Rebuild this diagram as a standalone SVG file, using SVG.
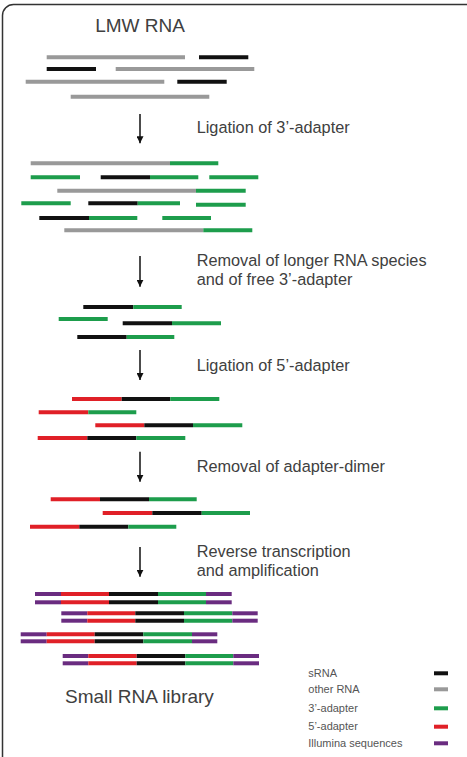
<svg xmlns="http://www.w3.org/2000/svg" width="467" height="757" viewBox="0 0 467 757">
<style>
text{font-family:"Liberation Sans",Arial,sans-serif;fill:#404040}
.t{font-size:16.3px}
.h{font-size:19px}
.l{font-size:11px;fill:#555}
line.s{stroke-width:4;stroke-linecap:butt}
.k{stroke:#111}
.g{stroke:#999}
.gr{stroke:#1d9d4c}
.r{stroke:#e02027}
.p{stroke:#6a2c80}
.ar{stroke:#111;stroke-width:1.5}
</style>
<defs>
<marker id="ah" viewBox="0 0 10 10" refX="10" refY="5" markerWidth="7" markerHeight="7" markerUnits="userSpaceOnUse" orient="auto">
<path d="M0,0 L10,5 L0,10 Z" fill="#111"/>
</marker>
</defs>
<rect x="2.5" y="4.5" width="480" height="780" rx="11" fill="#fff" stroke="#333" stroke-width="1.5"/>
<text class="h" x="140" y="32" text-anchor="middle">LMW RNA</text>

<g id="lmw">
<line class="s g" x1="46.7" y1="57.3" x2="185" y2="57.3"/>
<line class="s k" x1="199" y1="57.3" x2="248.3" y2="57.3"/>
<line class="s k" x1="46.7" y1="69" x2="96" y2="69"/>
<line class="s g" x1="115.7" y1="69" x2="254.3" y2="69"/>
<line class="s g" x1="25.7" y1="81.7" x2="164.3" y2="81.7"/>
<line class="s k" x1="177.3" y1="81.7" x2="226.7" y2="81.7"/>
<line class="s g" x1="70.7" y1="96.7" x2="209.3" y2="96.7"/>
</g>

<g id="connectors">
<line class="ar" x1="140" y1="114" x2="140" y2="143.3" marker-end="url(#ah)"/>
<line class="ar" x1="140" y1="256" x2="140" y2="286.7" marker-end="url(#ah)"/>
<line class="ar" x1="140" y1="350" x2="140" y2="380" marker-end="url(#ah)"/>
<line class="ar" x1="140" y1="451.7" x2="140" y2="481.7" marker-end="url(#ah)"/>
<line class="ar" x1="140" y1="547" x2="140" y2="576.7" marker-end="url(#ah)"/>
</g>

<g id="labels">
<text class="t" x="196.7" y="133.3">Ligation of 3’-adapter</text>
<text class="t" x="196.7" y="266">Removal of longer RNA species</text>
<text class="t" x="196.7" y="285">and of free 3’-adapter</text>
<text class="t" x="196.7" y="371">Ligation of 5’-adapter</text>
<text class="t" x="196.7" y="471.7">Removal of adapter-dimer</text>
<text class="t" x="196.7" y="557">Reverse transcription</text>
<text class="t" x="196.7" y="576">and amplification</text>
</g>

<g id="ligated3">
<line class="s g" x1="30.7" y1="163.3" x2="170" y2="163.3"/>
<line class="s gr" x1="170" y1="163.3" x2="218.3" y2="163.3"/>
<line class="s gr" x1="30.7" y1="177.3" x2="80" y2="177.3"/>
<line class="s k" x1="100.7" y1="177.3" x2="150" y2="177.3"/>
<line class="s gr" x1="150" y1="177.3" x2="198.3" y2="177.3"/>
<line class="s gr" x1="209.3" y1="177.3" x2="258.3" y2="177.3"/>
<line class="s g" x1="57.3" y1="190.7" x2="196" y2="190.7"/>
<line class="s gr" x1="196" y1="190.7" x2="245.7" y2="190.7"/>
<line class="s gr" x1="21.3" y1="203.3" x2="70.7" y2="203.3"/>
<line class="s k" x1="88.3" y1="203.3" x2="137.7" y2="203.3"/>
<line class="s gr" x1="137.7" y1="203.3" x2="180" y2="203.3"/>
<line class="s gr" x1="196" y1="204.7" x2="245.7" y2="204.7"/>
<line class="s k" x1="39.3" y1="218" x2="89" y2="218"/>
<line class="s gr" x1="89" y1="218" x2="137.3" y2="218"/>
<line class="s gr" x1="162.3" y1="218" x2="211" y2="218"/>
<line class="s g" x1="64.3" y1="230.3" x2="203.3" y2="230.3"/>
<line class="s gr" x1="203.3" y1="230.3" x2="252.3" y2="230.3"/>
</g>

<g id="selected">
<line class="s k" x1="83.3" y1="307" x2="133.3" y2="307"/>
<line class="s gr" x1="133.3" y1="307" x2="181.7" y2="307"/>
<line class="s gr" x1="58.7" y1="319" x2="107.7" y2="319"/>
<line class="s k" x1="122.7" y1="323.3" x2="172" y2="323.3"/>
<line class="s gr" x1="172" y1="323.3" x2="221" y2="323.3"/>
<line class="s k" x1="77.3" y1="337" x2="126.7" y2="337"/>
<line class="s gr" x1="126.7" y1="337" x2="174.3" y2="337"/>
</g>

<g id="ligated5">
<line class="s r" x1="72" y1="399" x2="121.7" y2="399"/>
<line class="s k" x1="121.7" y1="399" x2="170.3" y2="399"/>
<line class="s gr" x1="170.3" y1="399" x2="219.3" y2="399"/>
<line class="s r" x1="38.7" y1="412.3" x2="88.3" y2="412.3"/>
<line class="s gr" x1="88.3" y1="412.3" x2="136.3" y2="412.3"/>
<line class="s r" x1="95.3" y1="425.3" x2="144.3" y2="425.3"/>
<line class="s k" x1="144.3" y1="425.3" x2="193" y2="425.3"/>
<line class="s gr" x1="193" y1="425.3" x2="242.3" y2="425.3"/>
<line class="s r" x1="37.7" y1="438" x2="87.3" y2="438"/>
<line class="s k" x1="87.3" y1="438" x2="136.3" y2="438"/>
<line class="s gr" x1="136.3" y1="438" x2="185.3" y2="438"/>
</g>

<g id="nodimer">
<line class="s r" x1="50.7" y1="499.3" x2="100" y2="499.3"/>
<line class="s k" x1="100" y1="499.3" x2="149" y2="499.3"/>
<line class="s gr" x1="149" y1="499.3" x2="196.7" y2="499.3"/>
<line class="s r" x1="102.7" y1="513" x2="152.3" y2="513"/>
<line class="s k" x1="152.3" y1="513" x2="201.7" y2="513"/>
<line class="s gr" x1="201.7" y1="513" x2="250" y2="513"/>
<line class="s r" x1="30" y1="526.7" x2="79.3" y2="526.7"/>
<line class="s k" x1="79.3" y1="526.7" x2="128.3" y2="526.7"/>
<line class="s gr" x1="128.3" y1="526.7" x2="176.3" y2="526.7"/>
</g>

<g id="library">
<g id="lib1">
<line class="s p" x1="35" y1="594" x2="61" y2="594"/><line class="s r" x1="61" y1="594" x2="109" y2="594"/><line class="s k" x1="109" y1="594" x2="158" y2="594"/><line class="s gr" x1="158" y1="594" x2="206" y2="594"/><line class="s p" x1="206" y1="594" x2="231.7" y2="594"/>
<line class="s p" x1="35" y1="602.3" x2="61" y2="602.3"/><line class="s r" x1="61" y1="602.3" x2="109" y2="602.3"/><line class="s k" x1="109" y1="602.3" x2="158" y2="602.3"/><line class="s gr" x1="158" y1="602.3" x2="206" y2="602.3"/><line class="s p" x1="206" y1="602.3" x2="231.7" y2="602.3"/>
</g>
<g id="lib2">
<line class="s p" x1="61.3" y1="613.3" x2="87.3" y2="613.3"/><line class="s r" x1="87.3" y1="613.3" x2="135.3" y2="613.3"/><line class="s k" x1="135.3" y1="613.3" x2="184" y2="613.3"/><line class="s gr" x1="184" y1="613.3" x2="232.3" y2="613.3"/><line class="s p" x1="232.3" y1="613.3" x2="257.7" y2="613.3"/>
<line class="s p" x1="61.3" y1="620.7" x2="87.3" y2="620.7"/><line class="s r" x1="87.3" y1="620.7" x2="135.3" y2="620.7"/><line class="s k" x1="135.3" y1="620.7" x2="184" y2="620.7"/><line class="s gr" x1="184" y1="620.7" x2="232.3" y2="620.7"/><line class="s p" x1="232.3" y1="620.7" x2="257.7" y2="620.7"/>
</g>
<g id="lib3">
<line class="s p" x1="20.7" y1="634.3" x2="46.7" y2="634.3"/><line class="s r" x1="46.7" y1="634.3" x2="94.7" y2="634.3"/><line class="s k" x1="94.7" y1="634.3" x2="143.3" y2="634.3"/><line class="s gr" x1="143.3" y1="634.3" x2="192" y2="634.3"/><line class="s p" x1="192" y1="634.3" x2="217.3" y2="634.3"/>
<line class="s p" x1="20.7" y1="641.3" x2="46.7" y2="641.3"/><line class="s r" x1="46.7" y1="641.3" x2="94.7" y2="641.3"/><line class="s k" x1="94.7" y1="641.3" x2="143.3" y2="641.3"/><line class="s gr" x1="143.3" y1="641.3" x2="192" y2="641.3"/><line class="s p" x1="192" y1="641.3" x2="217.3" y2="641.3"/>
</g>
<g id="lib4">
<line class="s p" x1="62.7" y1="656" x2="88.3" y2="656"/><line class="s r" x1="88.3" y1="656" x2="136.7" y2="656"/><line class="s k" x1="136.7" y1="656" x2="185.3" y2="656"/><line class="s gr" x1="185.3" y1="656" x2="233.3" y2="656"/><line class="s p" x1="233.3" y1="656" x2="259" y2="656"/>
<line class="s p" x1="62.7" y1="663.3" x2="88.3" y2="663.3"/><line class="s r" x1="88.3" y1="663.3" x2="136.7" y2="663.3"/><line class="s k" x1="136.7" y1="663.3" x2="185.3" y2="663.3"/><line class="s gr" x1="185.3" y1="663.3" x2="233.3" y2="663.3"/><line class="s p" x1="233.3" y1="663.3" x2="259" y2="663.3"/>
</g>
</g>

<text class="h" x="65" y="703.3">Small RNA library</text>

<g id="legend">
<text class="l" x="308.3" y="677">sRNA</text>
<line class="s k" x1="434" y1="673.3" x2="448" y2="673.3"/>
<text class="l" x="308.3" y="693">other RNA</text>
<line class="s g" x1="434" y1="689.3" x2="448" y2="689.3"/>
<text class="l" x="308.3" y="711.5">3’-adapter</text>
<line class="s gr" x1="434" y1="708.3" x2="448" y2="708.3"/>
<text class="l" x="308.3" y="730">5’-adapter</text>
<line class="s r" x1="434" y1="726.7" x2="448" y2="726.7"/>
<text class="l" x="308.3" y="747">Illumina sequences</text>
<line class="s p" x1="434" y1="743.3" x2="448" y2="743.3"/>
</g>
</svg>
